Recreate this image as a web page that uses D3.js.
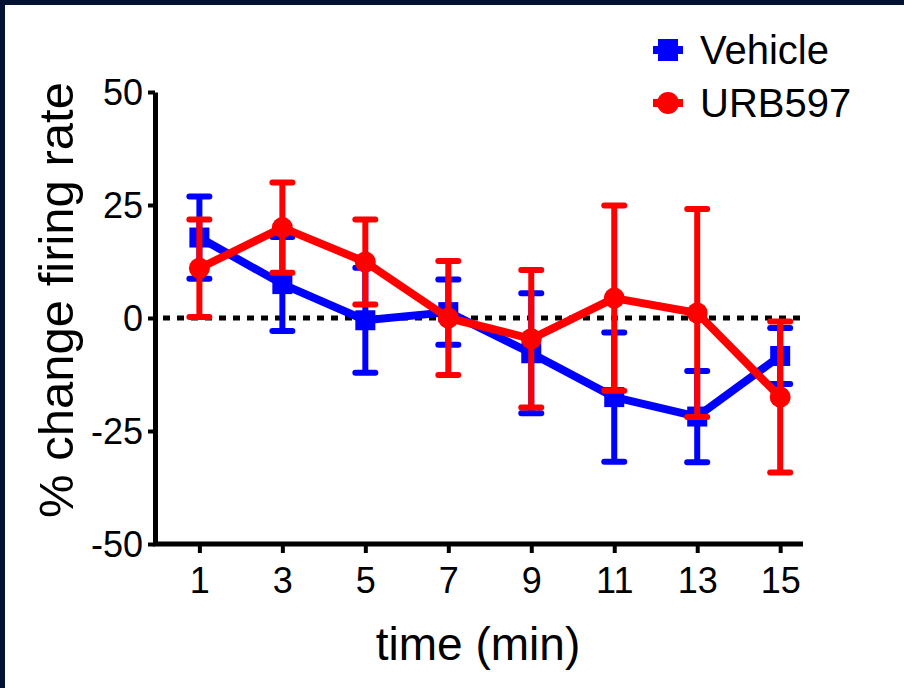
<!DOCTYPE html>
<html>
<head>
<meta charset="utf-8">
<script src="https://cdn.jsdelivr.net/npm/d3@7"></script>
<style>
  html, body { margin: 0; padding: 0; background: #011232; }
  svg { display: block; }
  text { font-family: "Liberation Sans", Arial, sans-serif; fill: #000; }
</style>
</head>
<body>
<svg width="904" height="688"></svg>
<script>
// time points (min)
const times = [1, 3, 5, 7, 9, 11, 13, 15];
const xTicks = [1, 3, 5, 7, 9, 11, 13, 15];
const yTicks = [-50, -25, 0, 25, 50];

// Vehicle: mean and SEM
const vehicleMean = [17.8, 7.5, -0.5, 1.3, -7.8, -17.5, -21.8, -8.4];
const vehicleSem = [9.1, 10.4, 11.6, 7.2, 13.3, 14.3, 10.1, 6.2];

// URB597: mean and SEM
const urbMean = [11, 20, 12.4, 0, -4.6, 4.4, 1.1, -17.5];
const urbSem = [10.8, 10, 9.4, 12.6, 15.2, 20.5, 23, 16.7];

const series = [
    { name: "Vehicle", color: "#0000ff", shape: "square", mean: vehicleMean, sem: vehicleSem },
    { name: "URB597", color: "#ff0000", shape: "circle", mean: urbMean, sem: urbSem }
];

const svg = d3.select("svg");

// white panel inside the navy frame
svg.append("rect")
    .attr("x", 5).attr("y", 5)
    .attr("width", 899).attr("height", 683)
    .attr("fill", "#fff");

const x = d3.scaleLinear().domain([-0.07, 15.55]).range([155, 803]);
const y = d3.scaleLinear().domain([-50, 50]).range([544, 92]);

// y axis (plain hyphen for negatives, like the original)
const yAxis = svg.append("g")
    .attr("transform", `translate(${x(-0.07)},0)`)
    .call(d3.axisLeft(y).tickValues(yTicks).tickFormat(d => String(d))
        .tickSize(7).tickPadding(5).tickSizeOuter(0));
yAxis.select(".domain").attr("stroke", "#000").attr("stroke-width", 5);
yAxis.selectAll(".tick line").attr("stroke", "#000").attr("stroke-width", 4);
yAxis.selectAll(".tick text")
    .style("font-size", "36px")
    .attr("dy", "0.36em");

// x axis
const xAxis = svg.append("g")
    .attr("transform", `translate(0,${y(-50)})`)
    .call(d3.axisBottom(x).tickValues(xTicks).tickSize(9).tickPadding(14).tickSizeOuter(0));
xAxis.select(".domain").attr("stroke", "#000").attr("stroke-width", 5)
    .attr("d", `M${x(-0.07) - 2},0H${x(15.55)}`);
xAxis.selectAll(".tick line").attr("stroke", "#000").attr("stroke-width", 4);
xAxis.selectAll(".tick text")
    .style("font-size", "36px")
    .attr("dy", "0.71em");

// axis titles
svg.append("text")
    .attr("transform", "translate(73,300) rotate(-90)")
    .attr("text-anchor", "middle")
    .style("font-size", "49px")
    .text("% change firing rate");

svg.append("text")
    .attr("x", 478)
    .attr("y", 660)
    .attr("text-anchor", "middle")
    .style("font-size", "46px")
    .text("time (min)");

// dotted zero line
svg.append("line")
    .attr("x1", x(-0.07) + 8).attr("x2", x(15.55))
    .attr("y1", y(0)).attr("y2", y(0))
    .attr("stroke", "#000")
    .attr("stroke-width", 5)
    .attr("stroke-dasharray", "7 7");

const line = d3.line().x(d => x(d.t)).y(d => y(d.m));

series.forEach(s => {
    const pts = times.map((t, i) => ({ t: t, m: s.mean[i], e: s.sem[i] }));
    const g = svg.append("g");

    g.append("path")
        .datum(pts)
        .attr("d", line)
        .attr("fill", "none")
        .attr("stroke", s.color)
        .attr("stroke-width", 8)
        .attr("stroke-linejoin", "round");

    // error bars
    const bars = g.append("g")
        .selectAll("g")
        .data(pts)
        .join("g")
        .attr("stroke", s.color)
        .attr("stroke-width", 6);
    bars.append("line")
        .attr("x1", d => x(d.t)).attr("x2", d => x(d.t))
        .attr("y1", d => y(d.m + d.e)).attr("y2", d => y(d.m - d.e));
    bars.append("line")
        .attr("stroke-linecap", "round")
        .attr("x1", d => x(d.t) - 10).attr("x2", d => x(d.t) + 10)
        .attr("y1", d => y(d.m + d.e)).attr("y2", d => y(d.m + d.e));
    bars.append("line")
        .attr("stroke-linecap", "round")
        .attr("x1", d => x(d.t) - 10).attr("x2", d => x(d.t) + 10)
        .attr("y1", d => y(d.m - d.e)).attr("y2", d => y(d.m - d.e));

    // markers
    if (s.shape === "square") {
        g.append("g").selectAll("rect")
            .data(pts)
            .join("rect")
            .attr("x", d => x(d.t) - 10)
            .attr("y", d => y(d.m) - 10)
            .attr("width", 20).attr("height", 20)
            .attr("fill", s.color);
    } else {
        g.append("g").selectAll("circle")
            .data(pts)
            .join("circle")
            .attr("cx", d => x(d.t))
            .attr("cy", d => y(d.m))
            .attr("r", 10.5)
            .attr("fill", s.color);
    }
});

// legend
const legend = svg.append("g")
    .selectAll("g")
    .data(series)
    .join("g")
    .attr("transform", (d, i) => `translate(668,${50 + i * 53})`);

legend.append("line")
    .attr("x1", -15).attr("x2", 15)
    .attr("stroke", d => d.color)
    .attr("stroke-width", 8);

legend.each(function (d) {
    const item = d3.select(this);
    if (d.shape === "square") {
        item.append("rect")
            .attr("x", -10).attr("y", -11)
            .attr("width", 20).attr("height", 22)
            .attr("fill", d.color);
    } else {
        item.append("circle")
            .attr("r", 11)
            .attr("fill", d.color);
    }
});

legend.append("text")
    .attr("x", 32)
    .attr("dy", "0.36em")
    .style("font-size", "40px")
    .text(d => d.name);
</script>
</body>
</html>
